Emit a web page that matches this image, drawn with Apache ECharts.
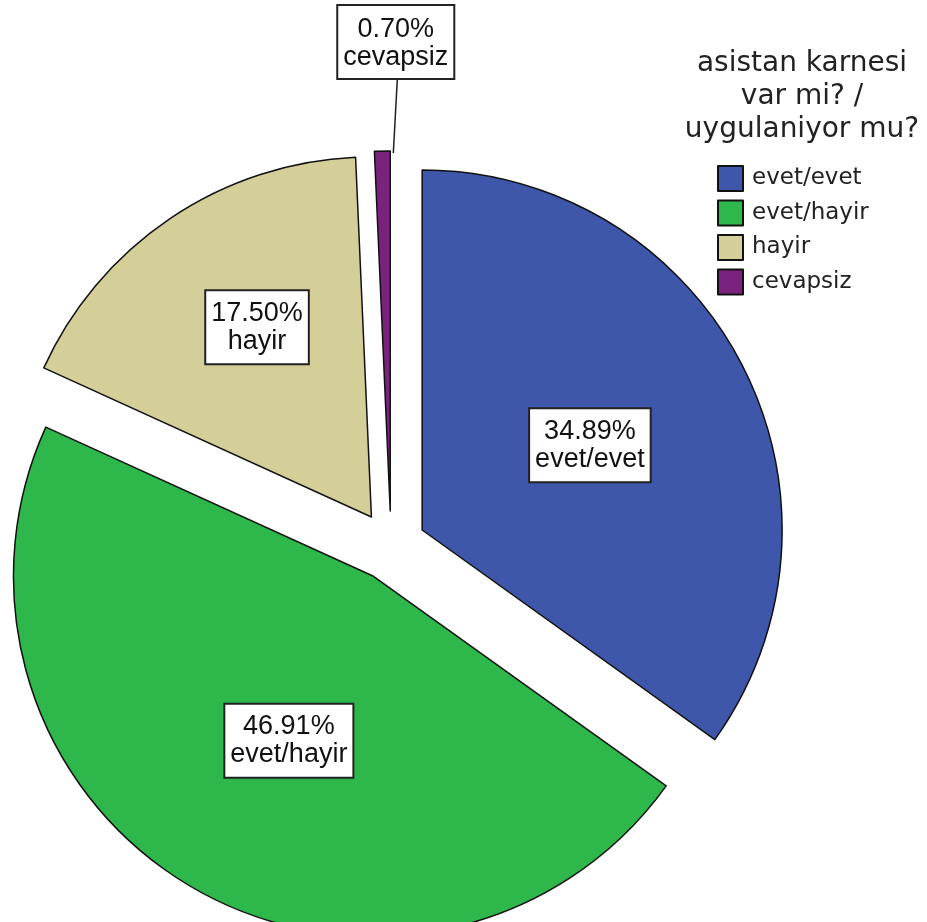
<!DOCTYPE html>
<html>
<head>
<meta charset="utf-8">
<script src="https://cdn.jsdelivr.net/npm/echarts@6/dist/echarts.min.js"></script>
<style>html,body{margin:0;padding:0;background:#fff;}#c{width:927px;height:922px;}</style>
</head>
<body>
<div id="c"></div>
<script>
const categories = ['evet/evet', 'evet/hayir', 'hayir', 'cevapsiz'];
const values = [34.89, 46.91, 17.50, 0.70];
const colors = ['#3e57aa', '#2eb84b', '#d4ce99', '#7b217e'];
const legendTitle = 'asistan karnesi\nvar mi? /\nuygulaniyor mu?';

const labelShift = [[5, -1], [7, 6], [-12, -38], [20, -3]];

const chart = echarts.init(document.getElementById('c'), null, {renderer: 'canvas'});
const data = categories.map((name, i) => {
  const item = {
    name: name,
    value: values[i],
    selected: true,
    itemStyle: {color: colors[i]}
  };
  if (i === 3) {
    item.label = {position: 'outside'};
    item.labelLine = {show: true, length: 70, length2: 0, lineStyle: {color: '#222', width: 1.5}};
  } else {
    item.label = {position: 'inside'};
    item.labelLine = {show: false};
  }
  return item;
});

chart.setOption({
  animation: false,
  backgroundColor: '#ffffff',
  title: {
    text: legendTitle,
    left: 797,
    top: 42,
    textAlign: 'center',
    textStyle: {fontFamily: 'DejaVu Sans', fontSize: 28, fontWeight: 'normal', color: '#222', lineHeight: 33}
  },
  legend: {
    orient: 'vertical',
    left: 712,
    top: 160,
    icon: 'rect',
    itemWidth: 25,
    itemHeight: 25,
    itemGap: 7.5,
    selectedMode: false,
    data: categories,
    itemStyle: {borderColor: '#111', borderWidth: 2},
    textStyle: {fontFamily: 'DejaVu Sans', fontSize: 23, lineHeight: 25, color: '#222', padding: [0, 0, 0, 4]}
  },
  series: [{
    type: 'pie',
    center: [391, 546],
    radius: 360,
    startAngle: 90,
    clockwise: true,
    selectedMode: 'multiple',
    selectedOffset: 35,
    avoidLabelOverlap: false,
    itemStyle: {borderColor: '#111', borderWidth: 1.5},
    emphasis: {disabled: true},
    label: {
      show: true,
      rotate: 0,
      formatter: p => p.value.toFixed(2) + '%\n' + p.name,
      fontFamily: 'Liberation Sans',
      fontSize: 27,
      lineHeight: 28,
      color: '#111',
      align: 'center',
      backgroundColor: '#fff',
      borderColor: '#222',
      borderWidth: 2,
      padding: [9, 5, 7, 5]
    },
    labelLayout: function (p) {
      const s = labelShift[p.dataIndex];
      if (p.dataIndex === 3 && p.labelLinePoints) {
        const a = p.labelLinePoints[0];
        const e = p.labelLinePoints[1];
        const by = e[1] - 2;
        return {
          dx: s[0], dy: s[1], align: 'center', verticalAlign: 'bottom',
          labelLinePoints: [[a[0] + 11, a[1] + 2], [a[0] + 15, by], [a[0] + 15, by]]
        };
      }
      return {dx: s[0], dy: s[1]};
    },
    data: data
  }]
});
</script>
</body>
</html>
